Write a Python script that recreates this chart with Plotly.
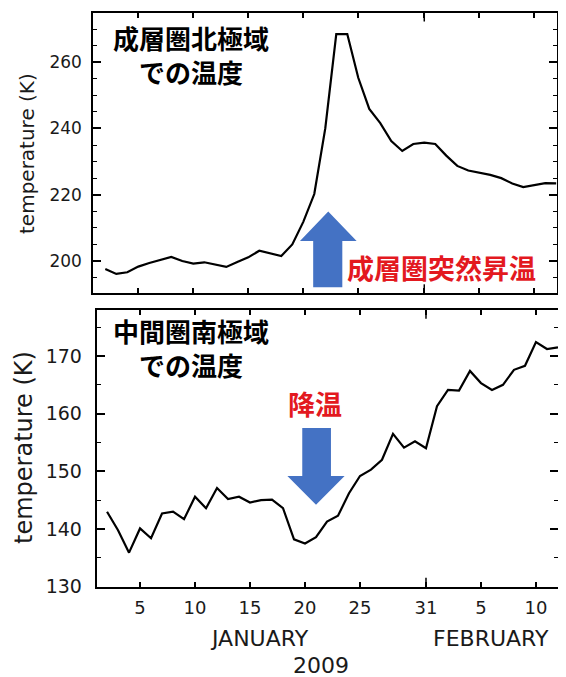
import plotly.graph_objects as go

# ---------------- data ----------------
days = [2, 3, 4, 5, 6, 7, 8, 9, 10, 11, 12, 13, 14, 15, 16, 17, 18, 19, 20, 21, 22,
        23, 24, 25, 26, 27, 28, 29, 30, 31, 32, 33, 34, 35, 36, 37, 38, 39, 40, 41, 42, 43]

strat_north_temp = [197.6, 196.1, 196.6, 198.3, 199.4, 200.3, 201.2, 200.0, 199.2, 199.6,
                    198.9, 198.2, 199.7, 201.1, 203.1, 202.4, 201.5, 205.0, 211.8, 220.2,
                    240.0, 268.5, 268.5, 255.3, 245.9, 241.6, 236.2, 233.2, 235.3, 235.7,
                    235.3, 231.8, 228.7, 227.3, 226.7, 226.0, 225.0, 223.4, 222.3, 222.9,
                    223.5, 223.4]

meso_south_temp = [143.0, 139.8, 135.9, 140.1, 138.4, 142.7, 143.0, 141.7, 145.6, 143.6,
                   147.1, 145.2, 145.6, 144.6, 145.0, 145.1, 143.6, 138.2, 137.5, 138.6,
                   141.3, 142.3, 146.2, 149.2, 150.3, 152.0, 156.5, 154.1, 155.2, 154.0,
                   161.3, 164.1, 164.0, 167.4, 165.3, 164.1, 165.0, 167.6, 168.3, 172.4,
                   171.2, 171.5]

x_tick_vals = [5, 10, 15, 20, 25, 31, 36, 41]
x_tick_text = ["5", "10", "15", "20", "25", "31", "5", "10"]
month_boundary_day = 31

top_title = ["成層圏北極域", "での温度"]
bottom_title = ["中間圏南極域", "での温度"]
top_event = "成層圏突然昇温"
bottom_event = "降温"
y_title = "temperature (K)"
month_labels = ["JANUARY", "FEBRUARY"]
year_label = "2009"

# ---------------- styling / layout ----------------
PAGE_W, PAGE_H = 566, 677
BODY_MARGIN = 8          # default page margin around the plot div
W, H = PAGE_W - BODY_MARGIN, PAGE_H - BODY_MARGIN
LATIN = "DejaVu Sans"
CJK = "Noto Sans CJK JP"
RED = "#E3191F"
BLUE = "#4472C4"
TXT = "#1a1a1a"


def px(x):
    return (x - BODY_MARGIN) / W


def py(y):
    return 1 - (y - BODY_MARGIN) / H


# arrow geometry in data units: (shaft_left, shaft_right, head_left, head_right, tip_x,
#                                 shaft_end_y, head_base_y, tip_y)
top_arrow = (20.9, 23.55, 19.7, 24.85, 22.27, 192.1, 206.0, 214.9)
bottom_arrow = (19.75, 22.36, 18.4, 23.6, 21.0, 157.5, 149.2, 144.2)


def arrow_path(a):
    sl, sr, hl, hr, tx, se, hb, tip = a
    pts = [(sl, se), (sl, hb), (hl, hb), (tx, tip), (hr, hb), (sr, hb), (sr, se)]
    return "M " + " L ".join(f"{x},{y}" for x, y in pts) + " Z"


fig = go.Figure()
fig.add_trace(go.Scatter(x=days, y=strat_north_temp, mode="lines",
                         line=dict(color="black", width=2.2), xaxis="x", yaxis="y",
                         showlegend=False, hoverinfo="x+y"))
fig.add_trace(go.Scatter(x=days, y=meso_south_temp, mode="lines",
                         line=dict(color="black", width=2.2), xaxis="x2", yaxis="y2",
                         showlegend=False, hoverinfo="x+y"))

common_x = dict(tickmode="array", tickvals=x_tick_vals, ticktext=x_tick_text,
                ticks="inside", ticklen=5, tickwidth=1.5, tickcolor="black",
                showline=True, linecolor="black", linewidth=2, mirror="ticks",
                showgrid=False, zeroline=False, automargin=False)
common_y = dict(ticks="inside", tickwidth=1.5, tickcolor="black",
                showline=True, linecolor="black", linewidth=2, mirror="ticks",
                showgrid=False, zeroline=False, automargin=False)

fig.update_layout(
    template="none",
    width=W, height=H,
    margin=dict(l=0, r=0, t=0, b=0, pad=0),
    paper_bgcolor="white", plot_bgcolor="white",
    showlegend=False,
    xaxis=dict(domain=[px(93.3), px(556.7)], range=[0.91, 43.04], anchor="y",
               showticklabels=False, **common_x),
    yaxis=dict(domain=[py(293.3), py(12.5)], range=[190.24, 275.0], anchor="x",
               tickvals=[200, 220, 240, 260], ticklen=8,
               tickfont=dict(family=LATIN, size=17, color=TXT),
               ticklabelstandoff=6,
               minor=dict(dtick=5, tick0=0, ticks="inside", ticklen=4, tickcolor="black",
                          tickwidth=1.2),
               **common_y),
    xaxis2=dict(domain=[px(96.7), px(558.3)], range=[1.06, 43.03], anchor="y2",
                tickfont=dict(family=LATIN, size=18, color=TXT),
                ticklabelstandoff=4,
                **common_x),
    yaxis2=dict(domain=[py(586.7), py(310)], range=[130, 177.97], anchor="x2",
                tickvals=[130, 140, 150, 160, 170], ticklen=8,
                tickfont=dict(family=LATIN, size=19, color=TXT),
                ticklabelstandoff=9,
                minor=dict(dtick=5, tick0=0, ticks="inside", ticklen=4, tickcolor="black",
                           tickwidth=1.2),
                **common_y),
)

shapes = [
    dict(type="path", path=arrow_path(top_arrow), xref="x", yref="y",
         fillcolor=BLUE, line=dict(width=0), layer="above"),
    dict(type="path", path=arrow_path(bottom_arrow), xref="x2", yref="y2",
         fillcolor=BLUE, line=dict(width=0), layer="above"),
]
# longer ticks at the month boundary
for xr, yr in (("x", "y domain"), ("x2", "y2 domain")):
    shapes.append(dict(type="line", xref=xr, yref=yr, x0=month_boundary_day, x1=month_boundary_day,
                       y0=0, y1=0.032, line=dict(color="black", width=1.5)))
    shapes.append(dict(type="line", xref=xr, yref=yr, x0=month_boundary_day, x1=month_boundary_day,
                       y0=1, y1=0.968, line=dict(color="black", width=1.5)))
fig.update_layout(shapes=shapes)

ann = []


def add_text(text, x, y, size, color="black", family=CJK, bold=False, angle=0):
    if bold:
        text = "<br>".join(f"<b>{t}</b>" for t in text.split("<br>"))
    ann.append(dict(text=text, x=px(x), y=py(y), xref="paper", yref="paper",
                    xanchor="center", yanchor="middle", showarrow=False, align="center",
                    textangle=angle, font=dict(family=family, size=size, color=color)))


add_text("<br>".join(top_title), 191, 54, 26, bold=True)
add_text("<br>".join(bottom_title), 191, 347, 26, bold=True)
add_text(top_event, 441.7, 267.5, 27, color=RED, bold=True)
add_text(bottom_event, 315, 403, 27, color=RED, bold=True)
add_text(y_title, 27, 154, 20, color=TXT, family=LATIN, angle=-90)
add_text(y_title, 24, 448, 24, color=TXT, family=LATIN, angle=-90)
add_text(month_labels[0], 259, 638, 22, color=TXT, family=LATIN)
add_text(month_labels[1], 491, 638, 22, color=TXT, family=LATIN)
add_text(year_label, 321, 665, 22, color=TXT, family=LATIN)
fig.update_layout(annotations=ann)

fig.write_html("out.html")
